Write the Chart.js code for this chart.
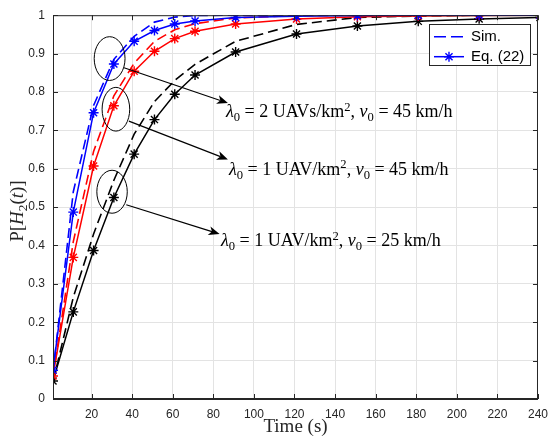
<!DOCTYPE html>
<html>
<head>
<meta charset="utf-8">
<script src="https://cdn.jsdelivr.net/npm/chart.js@4.4.1/dist/chart.umd.min.js"></script>
<style>
  html, body { margin: 0; padding: 0; background: #fff; }
</style>
</head>
<body>
<canvas id="probChart" width="556" height="438"></canvas>
<script>
// sample times (s) shared by all curves
const TIMES = [1, 11, 21, 31, 41, 51, 61, 71, 91, 121, 151, 181, 211, 241];

// Eq. (22)
const EQ_L2_V45 = [0.075, 0.487, 0.746, 0.873, 0.932, 0.960, 0.977, 0.985, 0.994, 0.997, 0.999, 1.0, 1.0, 1.0];
const EQ_L1_V45 = [0.060, 0.369, 0.607, 0.764, 0.854, 0.906, 0.939, 0.958, 0.977, 0.990, 0.996, 0.998, 0.999, 1.0];
const EQ_L1_V25 = [0.047, 0.227, 0.387, 0.525, 0.638, 0.728, 0.794, 0.844, 0.904, 0.951, 0.972, 0.984, 0.990, 0.994];

// simulation
const SIM_L2_V45 = [0.070, 0.540, 0.765, 0.885, 0.945, 0.982, 0.995, 0.999, 1.0, 1.0, 1.0, 1.0, 1.0, 1.0];
const SIM_L1_V45 = [0.058, 0.410, 0.645, 0.790, 0.875, 0.932, 0.962, 0.978, 0.993, 0.999, 1.0, 1.0, 1.0, 1.0];
const SIM_L1_V25 = [0.045, 0.265, 0.430, 0.570, 0.690, 0.775, 0.830, 0.872, 0.932, 0.976, 0.994, 0.998, 1.0, 1.0];

const X_TICKS = [20, 40, 60, 80, 100, 120, 140, 160, 180, 200, 220, 240];
const Y_TICKS = [0, 0.1, 0.2, 0.3, 0.4, 0.5, 0.6, 0.7, 0.8, 0.9, 1];
const Y_TICK_LABELS = ['0', '0.1', '0.2', '0.3', '0.4', '0.5', '0.6', '0.7', '0.8', '0.9', '1'];

const AXIS = '#262626';
const GRID = '#e3e3e3';
const SANS = 'Liberation Sans, Arial, sans-serif';
const SERIF = 'Liberation Serif, Times New Roman, serif';
const DASH = [10, 5];
const NOTE_SIZE = 18;
const TITLE_SIZE = 19;

function pts(ys) {
  return TIMES.map((t, i) => ({ x: t, y: ys[i] }));
}

function simSet(ys, color) {
  return {
    data: pts(ys), borderColor: color, borderWidth: 1.6, borderDash: DASH,
    pointRadius: 0, fill: false, tension: 0
  };
}

function eqSet(ys, color) {
  return {
    data: pts(ys), borderColor: color, borderWidth: 1.5, fill: false, tension: 0,
    pointStyle: 'star', pointRadius: 5, pointBorderColor: color, pointBorderWidth: 1.4,
    pointBackgroundColor: color
  };
}

// ellipses, arrows and labels placed in data units (t, P)
const CALLOUTS = [
  { ell: [28.9, 0.887, 7.6, 0.057], from: [36.0, 0.863], to: [87.2, 0.771], at: [86.2, 0.749],
    parts: [['λ', 'i'], ['0', 'sub'], [' = 2 UAVs/km', 'r'], ['2', 'sup'], [', ', 'r'], ['v', 'i'], ['0', 'sub'], [' = 45 km/h', 'r']] },
  { ell: [32.0, 0.755, 6.8, 0.057], from: [38.4, 0.724], to: [87.2, 0.624], at: [87.7, 0.599],
    parts: [['λ', 'i'], ['0', 'sub'], [' = 1 UAV/km', 'r'], ['2', 'sup'], [', ', 'r'], ['v', 'i'], ['0', 'sub'], [' = 45 km/h', 'r']] },
  { ell: [30.1, 0.540, 7.5, 0.056], from: [37.1, 0.506], to: [83.1, 0.430], at: [83.8, 0.413],
    parts: [['λ', 'i'], ['0', 'sub'], [' = 1 UAV/km', 'r'], ['2', 'sup'], [', ', 'r'], ['v', 'i'], ['0', 'sub'], [' = 25 km/h', 'r']] }
];

// writes a run of roman / italic / sub / superscript pieces, returns end x
function drawRich(ctx, parts, x, y, size) {
  ctx.textBaseline = 'alphabetic';
  ctx.textAlign = 'left';
  for (const [txt, kind] of parts) {
    let dy = 0, fs = size, style = '';
    if (kind === 'i') style = 'italic ';
    if (kind === 'sub') { fs = size * 0.7; dy = size * 0.22; }
    if (kind === 'sup') { fs = size * 0.7; dy = -size * 0.38; }
    ctx.font = style + fs + 'px ' + SERIF;
    ctx.fillText(txt, x, y + dy);
    x += ctx.measureText(txt).width;
  }
  return x;
}

function richWidth(ctx, parts, size) {
  let w = 0;
  for (const [txt, kind] of parts) {
    const fs = (kind === 'sub' || kind === 'sup') ? size * 0.7 : size;
    ctx.font = (kind === 'i' ? 'italic ' : '') + fs + 'px ' + SERIF;
    w += ctx.measureText(txt).width;
  }
  return w;
}

function arrow(ctx, x1, y1, x2, y2) {
  const a = Math.atan2(y2 - y1, x2 - x1);
  const len = 11, half = 4.5, back = 3;
  ctx.beginPath();
  ctx.moveTo(x1, y1);
  ctx.lineTo(x2 - Math.cos(a) * (len - back), y2 - Math.sin(a) * (len - back));
  ctx.stroke();
  ctx.save();
  ctx.translate(x2, y2);
  ctx.rotate(a);
  ctx.beginPath();
  ctx.moveTo(0, 0);
  ctx.lineTo(-len, -half);
  ctx.lineTo(-len + back, 0);
  ctx.lineTo(-len, half);
  ctx.closePath();
  ctx.fill();
  ctx.restore();
}

const decorations = {
  id: 'decorations',
  afterDatasetsDraw(chart) {
    const { ctx, chartArea: a, scales: { x, y } } = chart;
    const X = v => x.getPixelForValue(v), Y = v => y.getPixelForValue(v);
    ctx.save();

    // box and inward ticks
    ctx.strokeStyle = AXIS;
    ctx.lineWidth = 1;
    ctx.strokeRect(a.left + 0.5, a.top + 0.5, a.right - a.left - 1, a.bottom - a.top - 1);
    ctx.beginPath();
    for (const v of X_TICKS) {
      const px = Math.round(X(v)) + 0.5;
      ctx.moveTo(px, a.bottom); ctx.lineTo(px, a.bottom - 5);
      ctx.moveTo(px, a.top); ctx.lineTo(px, a.top + 5);
    }
    for (const v of Y_TICKS) {
      const py = Math.round(Y(v)) + 0.5;
      ctx.moveTo(a.left, py); ctx.lineTo(a.left + 5, py);
      ctx.moveTo(a.right, py); ctx.lineTo(a.right - 5, py);
    }
    ctx.stroke();

    // callouts
    ctx.strokeStyle = '#000';
    ctx.fillStyle = '#000';
    for (const c of CALLOUTS) {
      const [et, ep, rt, rp] = c.ell;
      ctx.lineWidth = 1;
      ctx.beginPath();
      ctx.ellipse(X(et), Y(ep), X(et + rt) - X(et), Y(ep) - Y(ep + rp), 0, 0, Math.PI * 2);
      ctx.stroke();
      ctx.lineWidth = 1.2;
      arrow(ctx, X(c.from[0]), Y(c.from[1]), X(c.to[0]), Y(c.to[1]));
      ctx.fillStyle = '#000';
      drawRich(ctx, c.parts, X(c.at[0]), Y(c.at[1]) + NOTE_SIZE * 0.33, NOTE_SIZE);
    }

    // y-axis title
    const yTitle = [['P[', 'r'], ['H', 'i'], ['2', 'sub'], ['(', 'r'], ['t', 'i'], [')]', 'r']];
    const w = richWidth(ctx, yTitle, TITLE_SIZE);
    ctx.save();
    ctx.translate(23, (a.top + a.bottom) / 2 + 4);
    ctx.rotate(-Math.PI / 2);
    ctx.fillStyle = AXIS;
    drawRich(ctx, yTitle, -w / 2, 0, TITLE_SIZE);
    ctx.restore();

    // legend
    const lw = 101, lh = 41, lx = a.right - 8 - lw, ly = a.top + 8.5;
    ctx.fillStyle = '#fff';
    ctx.fillRect(lx, ly, lw, lh);
    ctx.strokeStyle = AXIS;
    ctx.lineWidth = 1;
    ctx.strokeRect(Math.round(lx) + 0.5, Math.round(ly) + 0.5, lw, lh);
    const rows = [ly + 13, ly + 33];
    ctx.strokeStyle = '#0000ff';
    ctx.lineWidth = 1.6;
    ctx.setLineDash([12, 5]);
    ctx.beginPath(); ctx.moveTo(lx + 5, rows[0]); ctx.lineTo(lx + 35, rows[0]); ctx.stroke();
    ctx.setLineDash([]);
    ctx.lineWidth = 1.5;
    ctx.beginPath(); ctx.moveTo(lx + 5, rows[1]); ctx.lineTo(lx + 35, rows[1]); ctx.stroke();
    ctx.lineWidth = 1.4;
    const cx = lx + 20, cy = rows[1], r = 5, d = r * Math.SQRT1_2;
    ctx.beginPath();
    ctx.moveTo(cx - r, cy); ctx.lineTo(cx + r, cy);
    ctx.moveTo(cx, cy - r); ctx.lineTo(cx, cy + r);
    ctx.moveTo(cx - d, cy - d); ctx.lineTo(cx + d, cy + d);
    ctx.moveTo(cx - d, cy + d); ctx.lineTo(cx + d, cy - d);
    ctx.stroke();
    ctx.fillStyle = '#000';
    ctx.font = '15px ' + SANS;
    ctx.textBaseline = 'middle';
    ctx.textAlign = 'left';
    ctx.fillText('Sim.', lx + 42, rows[0]);
    ctx.fillText('Eq. (22)', lx + 42, rows[1]);

    ctx.restore();
  }
};

new Chart(document.getElementById('probChart'), {
  type: 'line',
  data: {
    datasets: [
      simSet(SIM_L2_V45, '#0000ff'),
      eqSet(EQ_L2_V45, '#0000ff'),
      simSet(SIM_L1_V45, '#ff0000'),
      eqSet(EQ_L1_V45, '#ff0000'),
      simSet(SIM_L1_V25, '#000000'),
      eqSet(EQ_L1_V25, '#000000')
    ]
  },
  options: {
    responsive: false,
    animation: false,
    devicePixelRatio: 1,
    layout: { padding: { top: 13, right: 12, left: 0, bottom: 0 } },
    plugins: { legend: { display: false }, tooltip: { enabled: false } },
    scales: {
      x: {
        type: 'linear', min: 1, max: 240,
        afterBuildTicks: s => { s.ticks = X_TICKS.map(v => ({ value: v })); },
        afterFit: s => { s.height = 39; },
        ticks: { font: { family: SANS, size: 12 }, color: AXIS, padding: 8, maxRotation: 0, autoSkip: false },
        grid: { color: GRID, drawTicks: false },
        border: { color: AXIS },
        title: { display: true, text: 'Time (s)', font: { family: SERIF, size: TITLE_SIZE }, color: AXIS, padding: { top: 0, bottom: 0 } }
      },
      y: {
        min: 0, max: 1,
        afterBuildTicks: s => { s.ticks = Y_TICKS.map(v => ({ value: v })); },
        afterFit: s => { s.width = 53; },
        ticks: { font: { family: SANS, size: 12 }, color: AXIS, padding: 8, callback: (v, i) => Y_TICK_LABELS[i] },
        grid: { color: GRID, drawTicks: false },
        border: { color: AXIS }
      }
    }
  },
  plugins: [decorations]
});
</script>
</body>
</html>
